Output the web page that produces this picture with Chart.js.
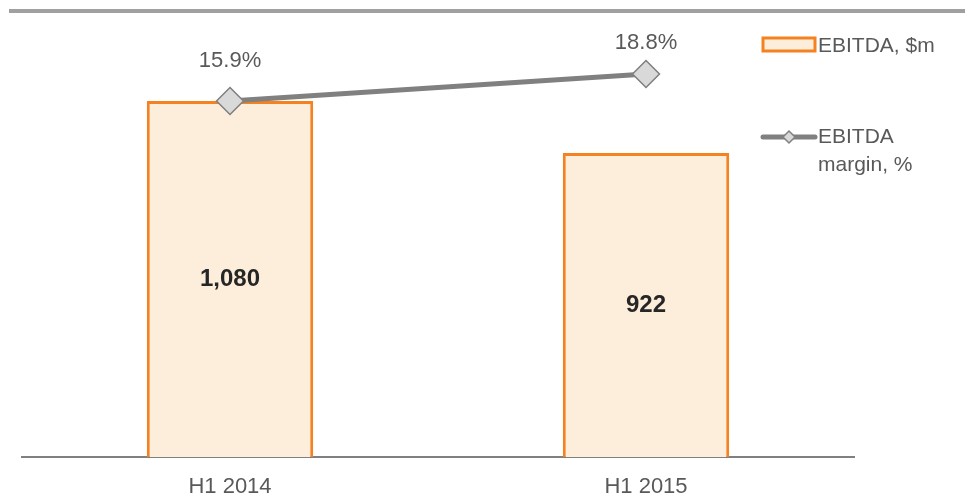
<!DOCTYPE html>
<html>
<head>
<meta charset="utf-8">
<script src="https://cdn.jsdelivr.net/npm/chart.js@4"></script>
<style>
  html, body { margin: 0; padding: 0; background: #fff; }
  #wrap { width: 969px; height: 498px; position: relative; }
</style>
</head>
<body>
<div id="wrap"><canvas id="chart"></canvas></div>
<script>
const periods = ["H1 2014", "H1 2015"];
const ebitda = [1080, 922];
const margin = [15.9, 18.8];

const FONT = "'Liberation Sans', Arial, sans-serif";

// labels, top rule and the right-hand legend
const decorations = {
  id: "decorations",
  afterDatasetsDraw(chart) {
    const ctx = chart.ctx;
    ctx.save();

    // top rule
    ctx.fillStyle = "#a0a0a0";
    ctx.fillRect(9, 9, 956, 4);

    // values inside bars
    const bars = chart.getDatasetMeta(1).data;
    ctx.font = "bold 24px " + FONT;
    ctx.fillStyle = "#262626";
    ctx.textAlign = "center";
    ctx.textBaseline = "middle";
    bars.forEach((bar, i) => {
      ctx.fillText(ebitda[i].toLocaleString("en-US"), bar.x, (bar.y + bar.base) / 2);
    });

    // margin labels
    const pts = chart.getDatasetMeta(0).data;
    ctx.font = "22px " + FONT;
    ctx.fillStyle = "#595959";
    pts.forEach((p, i) => {
      ctx.fillText(margin[i].toFixed(1) + "%", p.x, p.y - (i === 0 ? 40 : 31));
    });

    // legend
    ctx.fillStyle = "#fdeedc";
    ctx.strokeStyle = "#f58220";
    ctx.lineWidth = 3;
    ctx.fillRect(763, 38, 52, 13);
    ctx.strokeRect(763, 38, 52, 13);

    ctx.textAlign = "left";
    ctx.font = "21px " + FONT;
    ctx.fillStyle = "#595959";
    ctx.fillText("EBITDA, $m", 818, 46);

    ctx.strokeStyle = "#808080";
    ctx.lineWidth = 5;
    ctx.lineCap = "round";
    ctx.beginPath();
    ctx.moveTo(763, 137);
    ctx.lineTo(815, 137);
    ctx.stroke();
    ctx.lineWidth = 1.5;
    ctx.fillStyle = "#d9d9d9";
    ctx.beginPath();
    ctx.moveTo(789, 131);
    ctx.lineTo(795, 137);
    ctx.lineTo(789, 143);
    ctx.lineTo(783, 137);
    ctx.closePath();
    ctx.fill();
    ctx.stroke();

    ctx.fillStyle = "#595959";
    ctx.fillText("EBITDA", 818, 137);
    ctx.fillText("margin, %", 818, 165);
    ctx.restore();
  }
};

new Chart(document.getElementById("chart"), {
  type: "bar",
  data: {
    labels: periods,
    datasets: [
      {
        type: "line",
        label: "EBITDA margin, %",
        data: margin,
        yAxisID: "y1",
        borderColor: "#808080",
        borderWidth: 5,
        pointStyle: "rectRot",
        pointRadius: 13.5,
        pointHoverRadius: 13.5,
        pointBackgroundColor: "#d9d9d9",
        pointBorderColor: "#7f7f7f",
        pointBorderWidth: 1.5,
        order: 0
      },
      {
        label: "EBITDA, $m",
        data: ebitda,
        yAxisID: "y",
        backgroundColor: "#fdeedc",
        borderColor: "#f58220",
        borderWidth: 3,
        categoryPercentage: 1,
        barPercentage: 0.4,
        order: 1
      }
    ]
  },
  options: {
    responsive: true,
    maintainAspectRatio: false,
    animation: false,
    layout: { autoPadding: false, padding: { left: 22, right: 115, top: 12, bottom: 1 } },
    plugins: {
      legend: { display: false },
      tooltip: { enabled: false }
    },
    scales: {
      x: {
        grid: { display: false, drawTicks: false },
        border: { display: true, color: "#808080", width: 2 },
        ticks: { color: "#595959", font: { family: FONT, size: 22 }, padding: 17 },
        afterFit(scale) { scale.height = 40; }
      },
      y: { display: false, min: 0, max: 1350 },
      y1: { display: false, min: -22.34, max: 25.46 }
    }
  },
  plugins: [decorations]
});
</script>
</body>
</html>
